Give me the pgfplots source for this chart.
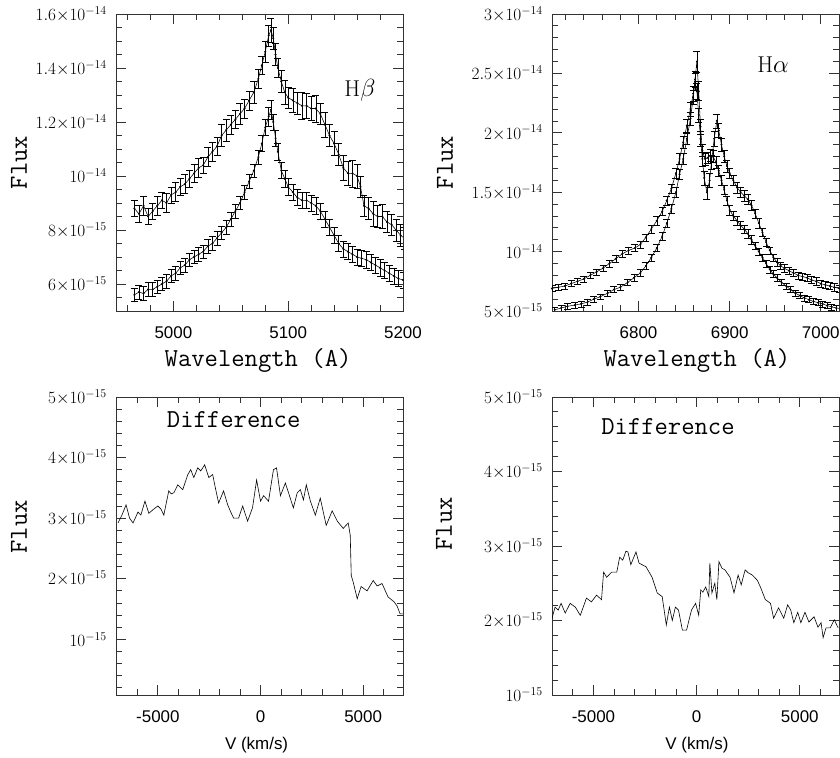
\documentclass[border=0pt]{standalone}
\usepackage{fontspec}
\setsansfont{Liberation Sans}
\usepackage{pgfplots}
\pgfplotsset{compat=1.18}
\pgfplotsset{
  panel/.style={
    scale only axis, width=287bp, height=297bp, anchor=south west,
    axis line style={black!80, line width=0.9bp},
    every tick/.style={black!80, line width=0.8bp},
    tick align=inside, major tick length=10bp, minor tick length=6bp,
    xticklabel style={font=\fontsize{17}{17}\sffamily, inner sep=0pt, yshift=-15bp},
    yticklabel style={font=\fontsize{18}{18}\selectfont, inner sep=0pt, xshift=-9bp},
    xlabel style={font=\fontsize{26}{26}\ttfamily},
    ylabel style={font=\fontsize{26}{26}\ttfamily, rotate=0},
  },
  ebar/.style={black, line width=0.55bp, mark=*, mark size=0.7bp,
    error bars/.cd, y dir=both, y explicit, error mark=|,
    error bar style={line width=0.5bp, black},
    error mark options={mark size=3.5bp, line width=0.5bp, black}},
  dline/.style={black, line width=0.6bp, mark=none},
}
\begin{document}
\begin{tikzpicture}
\useasboundingbox (0,0) rectangle (840bp,758bp);
% ---------------- top left: H beta
\begin{axis}[panel, at={(116bp,447bp)},
  xmin=4950, xmax=5200, ymin=5, ymax=16,
  xtick={5000,5100,5200}, xticklabels={5000,5100,5200},
  minor xtick={4960,4980,...,5200},
  ytick={6,8,10,12,14,16},
  yticklabels={$6{\times}10^{-15}$,$8{\times}10^{-15}$,$10^{-14}$,$1.2{\times}10^{-14}$,$1.4{\times}10^{-14}$,$1.6{\times}10^{-14}$},
  minor ytick={5,5.5,...,16},
  xlabel={Wavelength (A)}, ylabel={Flux},
  xlabel style={at={(axis description cs:0.495,-0.168)}, anchor=center},
  ylabel style={at={(axis description cs:-0.338,0.5)}, anchor=center},
]
\addplot+[ebar] table[x=x, y=y, y error=e] {
x y e
4966 8.8 0.3
4970 8.6 0.3
4974 8.9 0.35
4978 8.5 0.3
4982 8.7 0.3
4986 8.9 0.35
4990 9.1 0.3
4994 9.0 0.35
4998 9.3 0.3
5002 9.4 0.35
5006 9.6 0.3
5010 9.7 0.35
5014 9.9 0.3
5018 10.1 0.35
5022 10.3 0.35
5026 10.4 0.3
5030 10.7 0.35
5034 10.9 0.35
5038 11.1 0.35
5042 11.5 0.4
5046 11.7 0.4
5050 11.9 0.35
5054 12.1 0.35
5058 12.3 0.4
5062 12.5 0.35
5066 12.8 0.35
5070 13.1 0.4
5074 13.6 0.35
5077 14.1 0.35
5080 14.6 0.4
5083 15.2 0.4
5085 15.4 0.45
5087 15.1 0.4
5089 14.5 0.4
5091 14.0 0.35
5094 13.5 0.4
5097 13.1 0.45
5100 12.9 0.4
5104 12.8 0.45
5108 12.7 0.4
5112 12.6 0.5
5116 12.6 0.45
5120 12.5 0.45
5124 12.5 0.5
5128 12.3 0.4
5132 11.9 0.45
5136 11.5 0.4
5140 11.2 0.45
5144 10.8 0.4
5148 10.3 0.45
5152 10.1 0.45
5156 10.1 0.5
5160 10.0 0.45
5163 9.6 0.4
5166 8.9 0.4
5170 8.8 0.4
5174 8.6 0.45
5178 8.5 0.4
5182 8.5 0.45
5186 8.3 0.4
5190 8.2 0.4
5194 8.0 0.4
5198 7.8 0.4
5201 7.7 0.4
};
\addplot+[ebar] table[x=x, y=y, y error=e] {
x y e
4966 5.6 0.25
4970 5.7 0.25
4974 5.65 0.25
4978 5.8 0.25
4982 5.8 0.25
4986 5.9 0.25
4990 6.0 0.25
4994 6.1 0.25
4998 6.3 0.25
5002 6.4 0.25
5006 6.6 0.25
5010 6.7 0.25
5014 6.9 0.25
5018 7.0 0.25
5022 7.1 0.25
5026 7.2 0.25
5030 7.4 0.25
5034 7.5 0.25
5038 7.7 0.25
5042 7.9 0.25
5046 8.1 0.25
5050 8.4 0.25
5054 8.7 0.25
5058 9.0 0.25
5062 9.4 0.25
5066 9.8 0.25
5070 10.2 0.25
5074 10.7 0.25
5077 11.2 0.3
5080 11.8 0.3
5083 12.2 0.35
5085 12.45 0.35
5087 12.0 0.3
5089 11.4 0.3
5091 10.9 0.3
5094 10.2 0.3
5097 9.9 0.3
5100 9.6 0.3
5104 9.4 0.3
5108 9.2 0.3
5112 9.1 0.3
5116 9.1 0.3
5120 9.0 0.3
5124 8.9 0.3
5128 8.7 0.3
5132 8.4 0.3
5136 8.1 0.3
5140 7.8 0.3
5144 7.5 0.3
5148 7.3 0.3
5152 7.2 0.3
5156 7.1 0.3
5160 7.0 0.3
5164 6.95 0.3
5168 6.9 0.3
5172 6.8 0.3
5176 6.7 0.3
5180 6.6 0.3
5184 6.5 0.3
5188 6.4 0.3
5192 6.3 0.3
5196 6.2 0.3
5200 6.15 0.3
};
\node[font=\fontsize{23}{23}\selectfont] at (rel axis cs:0.85,0.744) {H$\beta$};
\end{axis}
% ---------------- top right: H alpha
\begin{axis}[panel, at={(552bp,447bp)},
  xmin=6705, xmax=7020, ymin=5, ymax=30,
  xtick={6800,6900,7000}, xticklabels={6800,6900,7000},
  minor xtick={6720,6740,...,7020},
  ytick={5,10,15,20,25,30},
  yticklabels={$5{\times}10^{-15}$,$10^{-14}$,$1.5{\times}10^{-14}$,$2{\times}10^{-14}$,$2.5{\times}10^{-14}$,$3{\times}10^{-14}$},
  minor ytick={5,6,...,30},
  xlabel={Wavelength (A)}, ylabel={Flux},
  xlabel style={at={(axis description cs:0.505,-0.168)}, anchor=center},
  ylabel style={at={(axis description cs:-0.373,0.5)}, anchor=center},
]
\addplot+[ebar] table[x=x, y=y, y error=e] {
x y e
6708 5.1 0.25
6715 5.25 0.25
6722 5.4 0.25
6730 5.5 0.25
6737 5.6 0.25
6744 5.75 0.25
6751 6.0 0.25
6758 6.2 0.25
6766 6.5 0.25
6773 6.8 0.25
6780 7.0 0.25
6788 7.4 0.25
6795 7.8 0.3
6802 8.2 0.3
6808 8.8 0.3
6814 9.5 0.3
6820 10.3 0.3
6826 11.3 0.35
6831 12.4 0.35
6836 13.6 0.35
6841 15.0 0.4
6845 16.5 0.4
6849 17.8 0.45
6853 19.5 0.5
6857 21.2 0.55
6860 23.0 0.6
6862 24.5 0.7
6864 26.0 0.9
6866 23.5 0.8
6868 20.5 0.6
6870 18.5 0.5
6873 17.8 0.5
6876 17.9 0.5
6879 18.1 0.5
6882 18.0 0.5
6885 17.5 0.5
6888 16.8 0.45
6891 16.0 0.45
6894 15.2 0.4
6897 14.3 0.4
6900 13.5 0.4
6904 13.0 0.4
6908 12.6 0.4
6912 12.2 0.35
6916 11.9 0.35
6920 11.5 0.35
6924 11.0 0.35
6928 10.5 0.3
6932 10.0 0.3
6936 9.5 0.3
6940 9.0 0.3
6944 8.5 0.3
6948 8.1 0.3
6952 7.8 0.3
6957 7.4 0.25
6962 7.1 0.25
6967 6.8 0.25
6972 6.5 0.25
6977 6.3 0.25
6982 6.1 0.25
6987 5.95 0.25
6992 5.8 0.25
6997 5.7 0.25
7002 5.6 0.25
7007 5.45 0.25
7012 5.35 0.25
7017 5.25 0.25
7022 5.2 0.25
};
\addplot+[ebar] table[x=x, y=y, y error=e] {
x y e
6705 6.9 0.25
6712 7.0 0.25
6719 7.1 0.25
6726 7.3 0.25
6733 7.5 0.25
6740 7.7 0.25
6747 8.0 0.25
6754 8.3 0.25
6761 8.6 0.25
6768 9.0 0.3
6775 9.4 0.3
6782 9.8 0.3
6789 10.1 0.3
6796 10.3 0.3
6802 10.6 0.3
6808 11.2 0.3
6814 11.9 0.35
6820 12.6 0.35
6826 13.4 0.35
6831 14.3 0.4
6836 15.3 0.4
6841 16.6 0.45
6845 17.8 0.45
6849 19.2 0.5
6853 20.6 0.55
6857 22.0 0.6
6860 23.3 0.65
6862 24.3 0.7
6864 23.5 0.7
6866 21.5 0.6
6868 19.5 0.6
6870 17.8 0.6
6872 16.2 0.6
6875 15.0 0.6
6878 16.0 0.6
6880 17.5 0.6
6883 19.5 0.6
6886 21.0 0.6
6888 20.2 0.6
6891 19.0 0.55
6894 18.0 0.5
6897 17.2 0.5
6900 16.6 0.45
6904 16.0 0.45
6908 15.4 0.45
6912 15.0 0.45
6916 14.7 0.45
6920 14.4 0.45
6924 13.9 0.4
6928 13.2 0.4
6932 12.4 0.4
6936 11.6 0.35
6940 10.8 0.35
6944 10.1 0.3
6948 9.5 0.3
6952 9.1 0.3
6956 8.8 0.3
6960 8.6 0.3
6965 8.4 0.3
6970 8.2 0.3
6975 8.0 0.3
6980 7.9 0.3
6985 7.8 0.3
6990 7.6 0.3
6995 7.5 0.3
7000 7.3 0.3
7005 7.2 0.3
7010 7.1 0.3
7015 7.0 0.3
7020 6.9 0.3
};
\node[font=\fontsize{23}{23}\selectfont] at (rel axis cs:0.77,0.828) {H$\alpha$};
\end{axis}
% ---------------- bottom left: difference
\begin{axis}[panel, at={(116bp,63bp)}, height=298bp,
  xmin=-7040, xmax=6940, ymin=0.08, ymax=5,
  xtick={-5000,0,5000}, xticklabels={-5000,0,5000},
  minor xtick={-7000,-6000,...,6000},
  ytick={1,2,3,4,5},
  yticklabels={$10^{-15}$,$2{\times}10^{-15}$,$3{\times}10^{-15}$,$4{\times}10^{-15}$,$5{\times}10^{-15}$},
  minor ytick={0.2,0.4,...,5},
  xlabel={V (km/s)}, ylabel={Flux},
  xlabel style={font=\fontsize{17}{17}\sffamily, at={(axis description cs:0.49,-0.168)}, anchor=center},
  ylabel style={at={(axis description cs:-0.338,0.564)}, anchor=center},
]
\addplot[dline] table {
-6940 2.92
-6750 3.05
-6550 3.22
-6380 3.0
-6210 2.92
-5970 3.1
-5830 3.05
-5630 3.28
-5440 3.08
-5200 3.15
-5000 3.2
-4850 3.15
-4710 3.05
-4470 3.45
-4350 3.40
-4220 3.42
-4030 3.55
-3790 3.47
-3540 3.72
-3400 3.8
-3250 3.67
-3060 3.83
-2910 3.78
-2720 3.88
-2520 3.67
-2330 3.72
-2200 3.50
-2040 3.25
-1800 3.45
-1600 3.22
-1450 3.10
-1310 3.0
-1070 3.0
-870 3.2
-630 2.95
-390 3.17
-190 3.63
0 3.28
150 3.37
390 3.28
630 3.8
780 3.83
970 3.37
1210 3.58
1410 3.37
1600 3.17
1790 3.42
1940 3.47
2090 3.3
2230 3.55
2430 3.28
2670 3.05
2910 3.33
3200 2.88
3490 3.12
3740 2.95
4030 2.83
4270 2.92
4370 2.72
4420 2.05
4510 1.95
4710 1.67
4900 1.87
5190 1.8
5490 1.97
5680 1.88
5920 1.92
6210 1.7
6500 1.62
6650 1.55
6800 1.42
6940 1.42
};
\node[font=\fontsize{26}{26}\ttfamily] at (rel axis cs:0.41,0.923) {Difference};
\end{axis}
% ---------------- bottom right: difference
\begin{axis}[panel, at={(552bp,63bp)}, height=298bp,
  xmin=-7010, xmax=6900, ymin=1, ymax=5,
  xtick={-5000,0,5000}, xticklabels={-5000,0,5000},
  minor xtick={-7000,-6000,...,6000},
  ytick={1,2,3,4,5},
  yticklabels={$10^{-15}$,$2{\times}10^{-15}$,$3{\times}10^{-15}$,$4{\times}10^{-15}$,$5{\times}10^{-15}$},
  minor ytick={1,1.2,...,5},
  xlabel={V (km/s)}, ylabel={Flux},
  xlabel style={font=\fontsize{17}{17}\sffamily, at={(axis description cs:0.505,-0.168)}, anchor=center},
  ylabel style={at={(axis description cs:-0.376,0.574)}, anchor=center},
]
\addplot[dline] table {
-7060 1.98
-6860 2.18
-6710 2.14
-6570 2.23
-6370 2.1
-6130 2.23
-5880 2.18
-5640 2.07
-5340 2.3
-5100 2.25
-4850 2.34
-4610 2.28
-4510 2.65
-4360 2.58
-4120 2.65
-3870 2.65
-3730 2.85
-3580 2.81
-3430 2.93
-3330 2.92
-3190 2.75
-2940 2.92
-2790 2.77
-2450 2.72
-2160 2.58
-1910 2.37
-1670 2.32
-1470 1.94
-1320 2.18
-1180 2.0
-1030 2.18
-880 2.14
-690 1.87
-490 1.87
-250 2.14
-50 2.23
100 2.07
200 2.41
300 2.38
440 2.45
590 2.32
640 2.77
740 2.37
880 2.5
980 2.28
1080 2.79
1230 2.7
1370 2.68
1620 2.58
1810 2.37
2010 2.61
2160 2.48
2350 2.68
2500 2.64
2700 2.61
2940 2.54
3090 2.45
3330 2.28
3580 2.23
3730 2.03
3970 2.17
4220 2.03
4410 2.21
4560 2.14
4710 1.97
4900 2.11
5050 1.97
5250 2.11
5440 1.98
5690 2.05
5880 1.91
6030 1.97
6130 1.77
6270 1.9
6470 1.9
6670 2.01
6860 1.9
};
\node[font=\fontsize{26}{26}\ttfamily] at (rel axis cs:0.404,0.90) {Difference};
\end{axis}
\end{tikzpicture}
\end{document}
